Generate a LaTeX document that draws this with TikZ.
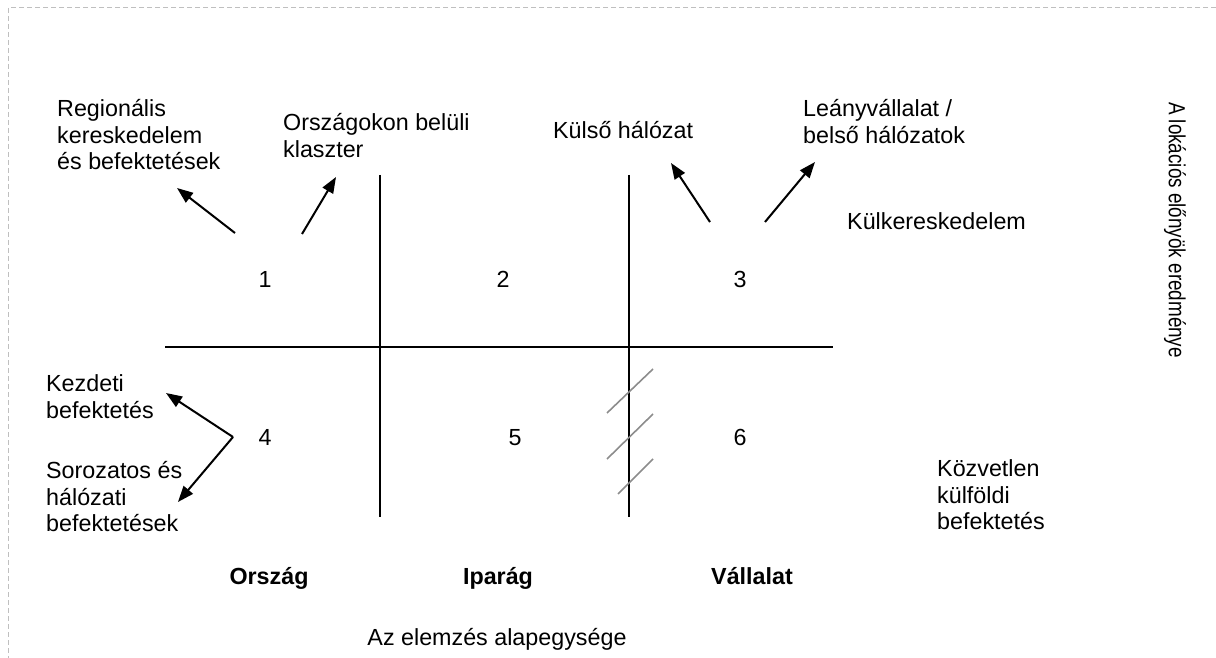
\documentclass[tikz,border=0pt]{standalone}
\usepackage{fontspec}
\setmainfont{Liberation Sans}
\usetikzlibrary{arrows.meta}
\tikzset{
  txt/.style={inner sep=0pt, font=\fontsize{23.3}{26.5}\selectfont},
  lbl/.style={txt, anchor=north west, align=left},
  num/.style={txt, anchor=base},
  bold/.style={txt, anchor=base, font=\fontsize{23.3}{26.5}\selectfont\bfseries},
  axisline/.style={line width=2pt, black},
  arr/.style={line width=2pt, -{Triangle[length=16pt,width=12pt]}},
  hatch/.style={line width=1.6pt, color=black!45},
  border/.style={line width=1pt, color=black!25, dash pattern=on 5pt off 3pt}
}
\begin{document}
\begin{tikzpicture}[x=1pt,y=-1pt]
\useasboundingbox (0,0) rectangle (1216,658);
% border
\coordinate (b1) at (1216,7.5);
\coordinate (b2) at (8.5,7.5);
\coordinate (b3) at (8.5,658);
\draw[border] (b1) -- (b2) -- (b3);
% axes
\coordinate (hL) at (165,347);
\coordinate (hR) at (833,347);
\coordinate (v1T) at (380,175);
\coordinate (v1B) at (380,517);
\coordinate (v2T) at (629,175);
\coordinate (v2B) at (629,517);
\draw[axisline] (hL) -- (hR);
\draw[axisline] (v1T) -- (v1B);
\draw[axisline] (v2T) -- (v2B);
% hatch marks
\coordinate (h1a) at (607,413); \coordinate (h1b) at (653,369);
\coordinate (h2a) at (607,459); \coordinate (h2b) at (653,414);
\coordinate (h3a) at (618,494); \coordinate (h3b) at (653,459);
\draw[hatch] (h1a) -- (h1b);
\draw[hatch] (h2a) -- (h2b);
\draw[hatch] (h3a) -- (h3b);
% numbers
\node[num] (n1) at (265,287) {1};
\node[num] (n2) at (503,287) {2};
\node[num] (n3) at (740,287) {3};
\node[num] (n4) at (265,445) {4};
\node[num] (n5) at (515,445) {5};
\node[num] (n6) at (740,445) {6};
% labels
\node[lbl] (regio) at (57,98) {\strut Regionális\\kereskedelem\\és befektetések};
\node[lbl] (orsz) at (283,112) {\strut Országokon belüli\\klaszter};
\node[lbl] (kulso) at (553,120) {\strut Külső hálózat};
\node[lbl] (leany) at (803,98) {\strut Leányvállalat /\\belső hálózatok};
\node[lbl] (kulker) at (847,211) {\strut Külkereskedelem};
\node[lbl] (kezd) at (46,373) {\strut Kezdeti\\befektetés};
\node[lbl] (soroz) at (46,460) {\strut Sorozatos és\\hálózati\\befektetések};
\node[lbl] (kozv) at (937,458) {\strut Közvetlen\\külföldi\\befektetés};
\node[bold] (orszag) at (269,584) {Ország};
\node[bold] (iparag) at (498,584) {Iparág};
\node[bold] (vallalat) at (752,584) {Vállalat};
\node[num] (elemz) at (497,645) {Az elemzés alapegysége};
\node[inner sep=0pt, font=\fontsize{23.3}{26.5}\selectfont, yscale=0.81, rotate=-90] (lok) at (1175,230) {A lokációs előnyök eredménye};
% arrows
\coordinate (a1s) at (235,233); \coordinate (a1e) at (177,188);
\coordinate (a2s) at (302,234); \coordinate (a2e) at (336,177);
\coordinate (a3s) at (710,222); \coordinate (a3e) at (671,163);
\coordinate (a4s) at (765,222); \coordinate (a4e) at (815,162);
\coordinate (a5s) at (233,437); \coordinate (a5e) at (166,393);
\coordinate (a6e) at (178,502);
\draw[arr] (a1s) -- (a1e);
\draw[arr] (a2s) -- (a2e);
\draw[arr] (a3s) -- (a3e);
\draw[arr] (a4s) -- (a4e);
\draw[arr] (a5s) -- (a5e);
\draw[arr] (a5s) -- (a6e);
\end{tikzpicture}
\end{document}
